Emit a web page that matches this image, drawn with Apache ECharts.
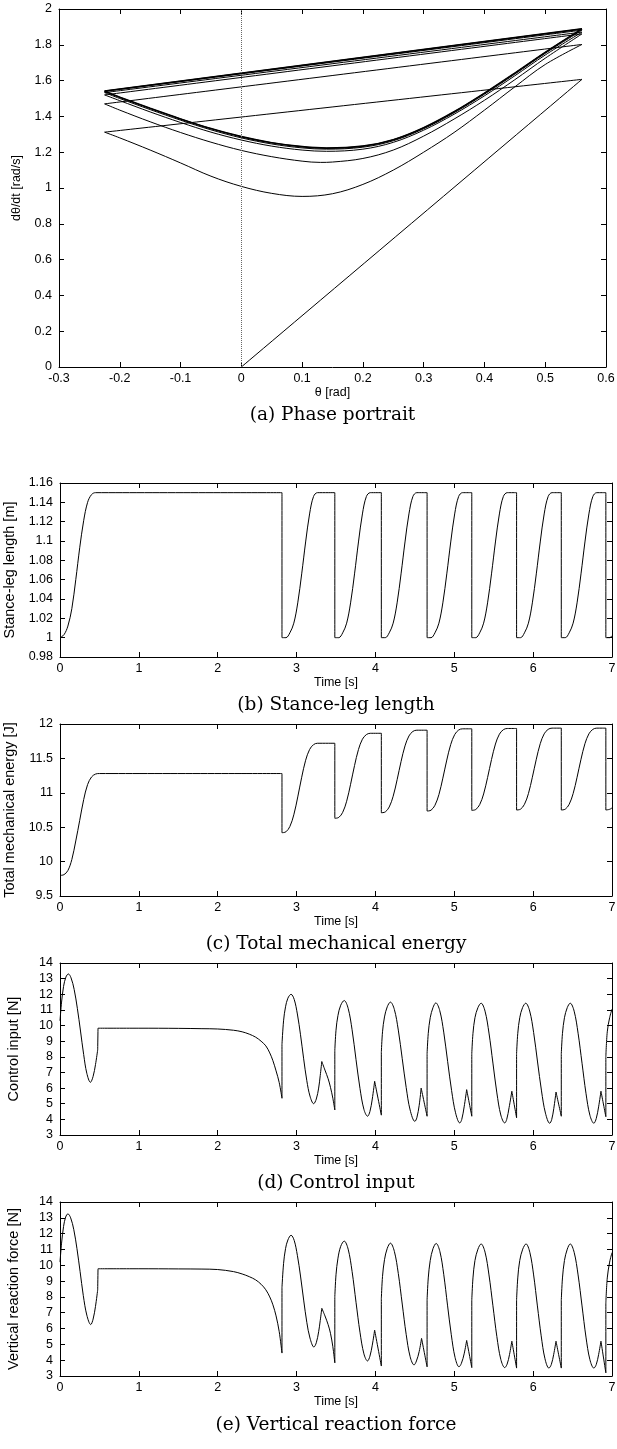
<!DOCTYPE html>
<html>
<head>
<meta charset="utf-8">
<script src="https://cdn.jsdelivr.net/npm/echarts@6.0.0/dist/echarts.min.js"></script>
<style>
html, body { margin: 0; padding: 0; background: #fff; }
#chart { width: 617px; height: 1449px; }
</style>
</head>
<body>
<div id="chart"></div>
<script>
// (a) phase portrait: [theta, dtheta/dt], one array per stance phase
const firstStance = [[0, 0], [0.5605, 1.607]]
const swing1 = [[-0.225, 1.312], [-0.2, 1.28], [-0.15, 1.212], [-0.1, 1.14], [-0.05, 1.066], [0, 1.009], [0.05, 0.97], [0.1, 0.953], [0.15, 0.968], [0.2, 1.02], [0.25, 1.1], [0.3, 1.2], [0.35, 1.31], [0.4, 1.435], [0.45, 1.565], [0.5, 1.69], [0.5605, 1.802]]
const swing2 = [[-0.225, 1.47], [-0.2, 1.435], [-0.15, 1.37], [-0.1, 1.31], [-0.05, 1.256], [0, 1.21], [0.05, 1.175], [0.1, 1.15], [0.13, 1.143], [0.15, 1.145], [0.2, 1.165], [0.25, 1.212], [0.3, 1.29], [0.35, 1.385], [0.4, 1.49], [0.45, 1.605], [0.5, 1.725], [0.5605, 1.861]]
const swing3 = [[-0.225, 1.52], [-0.2, 1.488], [-0.15, 1.425], [-0.1, 1.366], [-0.05, 1.312], [0, 1.268], [0.05, 1.234], [0.1, 1.212], [0.14, 1.205], [0.2, 1.217], [0.25, 1.255], [0.3, 1.323], [0.35, 1.412], [0.4, 1.515], [0.45, 1.627], [0.5, 1.743], [0.5605, 1.871]]
const swing4 = [[-0.225, 1.533], [-0.2, 1.5], [-0.15, 1.438], [-0.1, 1.379], [-0.05, 1.325], [0, 1.28], [0.05, 1.246], [0.1, 1.224], [0.14, 1.217], [0.2, 1.228], [0.25, 1.264], [0.3, 1.331], [0.35, 1.42], [0.4, 1.524], [0.45, 1.636], [0.5, 1.752], [0.5605, 1.882]]
const limitCycle = [[-0.225, 1.54], [-0.2, 1.507], [-0.15, 1.445], [-0.1, 1.386], [-0.05, 1.332], [0, 1.287], [0.05, 1.253], [0.1, 1.231], [0.14, 1.223], [0.2, 1.234], [0.25, 1.27], [0.3, 1.337], [0.35, 1.426], [0.4, 1.53], [0.45, 1.642], [0.5, 1.758], [0.5605, 1.889]]
// heel-strike jumps (end of one stance -> start of the next)
const impacts = [
    [[0.5605, 1.607], [-0.225, 1.312]],
    [[0.5605, 1.802], [-0.225, 1.47]],
    [[0.5605, 1.861], [-0.225, 1.52]],
    [[0.5605, 1.871], [-0.225, 1.533]],
    [[0.5605, 1.882], [-0.225, 1.54]],
    [[0.5605, 1.889], [-0.225, 1.542]]
]

// (b) stance-leg length [m] vs time [s], pieces split at the jumps
const legLength = [
    [[0, 1], [0.05, 1.003], [0.1, 1.012], [0.15, 1.03], [0.2, 1.06], [0.25, 1.093], [0.3, 1.121], [0.35, 1.14], [0.4, 1.148], [0.45, 1.15], [2.815, 1.15]],
    [[2.815, 1.15], [2.815, 1]],
    [[2.815, 1], [2.865, 1], [2.915, 1.005], [2.965, 1.015], [3.015, 1.036], [3.065, 1.066], [3.115, 1.099], [3.165, 1.128], [3.215, 1.146], [3.265, 1.15], [3.485, 1.15]],
    [[3.485, 1.15], [3.485, 1]],
    [[3.485, 1], [3.535, 1], [3.585, 1.005], [3.635, 1.015], [3.685, 1.036], [3.735, 1.066], [3.785, 1.099], [3.835, 1.128], [3.885, 1.146], [3.935, 1.15], [4.075, 1.15]],
    [[4.075, 1.15], [4.075, 1]],
    [[4.075, 1], [4.125, 1], [4.175, 1.005], [4.225, 1.015], [4.275, 1.036], [4.325, 1.066], [4.375, 1.099], [4.425, 1.128], [4.475, 1.146], [4.525, 1.15], [4.655, 1.15]],
    [[4.655, 1.15], [4.655, 1]],
    [[4.655, 1], [4.705, 1], [4.755, 1.005], [4.805, 1.015], [4.855, 1.036], [4.905, 1.066], [4.955, 1.099], [5.005, 1.128], [5.055, 1.146], [5.105, 1.15], [5.222, 1.15]],
    [[5.222, 1.15], [5.222, 1]],
    [[5.222, 1], [5.272, 1], [5.322, 1.005], [5.372, 1.015], [5.422, 1.036], [5.472, 1.066], [5.522, 1.099], [5.572, 1.128], [5.622, 1.146], [5.672, 1.15], [5.79, 1.15]],
    [[5.79, 1.15], [5.79, 1]],
    [[5.79, 1], [5.84, 1], [5.89, 1.005], [5.94, 1.015], [5.99, 1.036], [6.04, 1.066], [6.09, 1.099], [6.14, 1.128], [6.19, 1.146], [6.24, 1.15], [6.357, 1.15]],
    [[6.357, 1.15], [6.357, 1]],
    [[6.357, 1], [6.407, 1], [6.457, 1.005], [6.507, 1.015], [6.557, 1.036], [6.607, 1.066], [6.657, 1.099], [6.707, 1.128], [6.757, 1.146], [6.807, 1.15], [6.922, 1.15]],
    [[6.922, 1.15], [6.922, 1]],
    [[6.922, 1], [6.97, 1], [7, 1.002]]
]

// (c) total mechanical energy [J]
const energy = [
    [[0, 9.8], [0.05, 9.81], [0.1, 9.87], [0.15, 10.03], [0.2, 10.3], [0.25, 10.6], [0.3, 10.9], [0.35, 11.12], [0.4, 11.23], [0.45, 11.272], [0.5, 11.28], [2.815, 11.28]],
    [[2.815, 11.28], [2.815, 10.42]],
    [[2.815, 10.42], [2.865, 10.433], [2.915, 10.51], [2.965, 10.68], [3.015, 10.94], [3.065, 11.226], [3.115, 11.473], [3.165, 11.629], [3.215, 11.7], [3.265, 11.72], [3.485, 11.72]],
    [[3.485, 11.72], [3.485, 10.63]],
    [[3.485, 10.63], [3.535, 10.642], [3.585, 10.716], [3.635, 10.877], [3.685, 11.124], [3.735, 11.396], [3.785, 11.63], [3.835, 11.779], [3.885, 11.846], [3.935, 11.865], [4.075, 11.865]],
    [[4.075, 11.865], [4.075, 10.71]],
    [[4.075, 10.71], [4.125, 10.722], [4.175, 10.794], [4.225, 10.95], [4.275, 11.19], [4.325, 11.454], [4.375, 11.682], [4.425, 11.826], [4.475, 11.892], [4.525, 11.91], [4.655, 11.91]],
    [[4.655, 11.91], [4.655, 10.735]],
    [[4.655, 10.735], [4.705, 10.747], [4.755, 10.819], [4.805, 10.974], [4.855, 11.213], [4.905, 11.476], [4.955, 11.703], [5.005, 11.846], [5.055, 11.912], [5.105, 11.93], [5.222, 11.93]],
    [[5.222, 11.93], [5.222, 10.745]],
    [[5.222, 10.745], [5.272, 10.757], [5.322, 10.828], [5.372, 10.983], [5.422, 11.221], [5.472, 11.483], [5.522, 11.709], [5.572, 11.852], [5.622, 11.917], [5.672, 11.935], [5.79, 11.935]],
    [[5.79, 11.935], [5.79, 10.75]],
    [[5.79, 10.75], [5.84, 10.762], [5.89, 10.833], [5.94, 10.988], [5.99, 11.226], [6.04, 11.488], [6.09, 11.714], [6.14, 11.857], [6.19, 11.922], [6.24, 11.94], [6.357, 11.94]],
    [[6.357, 11.94], [6.357, 10.75]],
    [[6.357, 10.75], [6.407, 10.762], [6.457, 10.833], [6.507, 10.988], [6.557, 11.226], [6.607, 11.488], [6.657, 11.714], [6.707, 11.857], [6.757, 11.922], [6.807, 11.94], [6.922, 11.94]],
    [[6.922, 11.94], [6.922, 10.75]],
    [[6.922, 10.75], [6.97, 10.76], [7, 10.78]]
]

// (d) control input [N]
const controlInput = [
    [[0, 10.3], [0.02, 11.5], [0.045, 12.5], [0.075, 13.1], [0.106, 13.3], [0.14, 13.05], [0.18, 12.3], [0.22, 11.1], [0.26, 9.65], [0.3, 8.15], [0.34, 6.95], [0.386, 6.37], [0.42, 6.75], [0.45, 7.5], [0.478, 8.45]],
    [[0.478, 8.45], [0.482, 9.83]],
    [[0.482, 9.83], [1, 9.83], [1.5, 9.82], [1.8, 9.8], [2, 9.78], [2.2, 9.7], [2.31, 9.6], [2.4, 9.45], [2.48, 9.26], [2.55, 9.0], [2.61, 8.7], [2.66, 8.25], [2.7, 7.75], [2.74, 7.1], [2.78, 6.35], [2.815, 5.35]],
    [[2.815, 5.35], [2.815, 8.8]],
    [[2.815, 8.8], [2.835, 10.3], [2.86, 11.2], [2.89, 11.75], [2.93, 12.0], [2.97, 11.67], [3.01, 10.74], [3.05, 9.41], [3.09, 7.87], [3.13, 6.47], [3.17, 5.49], [3.217, 5.0], [3.25, 5.3], [3.28, 6.0], [3.3, 6.8], [3.32, 7.7]],
    [[3.32, 7.7], [3.36, 7.15], [3.4, 6.6], [3.43, 6.05], [3.46, 5.35], [3.485, 4.6]],
    [[3.485, 4.6], [3.485, 8.4]],
    [[3.485, 8.4], [3.5, 9.7], [3.525, 10.65], [3.56, 11.3], [3.604, 11.6], [3.654, 11.1], [3.704, 9.73], [3.754, 7.82], [3.804, 5.98], [3.854, 4.64], [3.9, 4.2], [3.93, 4.5], [3.96, 5.3], [3.99, 6.44]],
    [[3.99, 6.44], [4.075, 4.27]],
    [[4.075, 4.27], [4.075, 8.3]],
    [[4.075, 8.3], [4.09, 9.6], [4.115, 10.55], [4.15, 11.2], [4.19, 11.5], [4.24, 11.03], [4.29, 9.71], [4.34, 7.88], [4.39, 6.04], [4.44, 4.6], [4.5, 3.87], [4.525, 4.1], [4.555, 4.9], [4.58, 6.0]],
    [[4.58, 6.0], [4.655, 4.2]],
    [[4.655, 4.2], [4.655, 8.2]],
    [[4.655, 8.2], [4.67, 9.5], [4.695, 10.5], [4.73, 11.15], [4.766, 11.45], [4.816, 10.95], [4.866, 9.58], [4.916, 7.69], [4.966, 5.84], [5.016, 4.42], [5.07, 3.77], [5.095, 4.0], [5.125, 4.8], [5.157, 5.9]],
    [[5.157, 5.9], [5.222, 4.2]],
    [[5.222, 4.2], [5.222, 8.2]],
    [[5.222, 8.2], [5.237, 9.5], [5.262, 10.5], [5.3, 11.15], [5.34, 11.43], [5.39, 10.92], [5.44, 9.52], [5.49, 7.6], [5.54, 5.69], [5.59, 4.28], [5.64, 3.77], [5.665, 4.0], [5.695, 4.75], [5.73, 5.8]],
    [[5.73, 5.8], [5.79, 4.1]],
    [[5.79, 4.1], [5.79, 8.2]],
    [[5.79, 8.2], [5.805, 9.5], [5.83, 10.5], [5.866, 11.15], [5.906, 11.43], [5.956, 10.93], [6.006, 9.56], [6.056, 7.67], [6.106, 5.82], [6.156, 4.4], [6.21, 3.75], [6.235, 3.98], [6.262, 4.7], [6.29, 5.75]],
    [[6.29, 5.75], [6.357, 4.2]],
    [[6.357, 4.2], [6.357, 8.2]],
    [[6.357, 8.2], [6.372, 9.5], [6.397, 10.5], [6.433, 11.15], [6.47, 11.43], [6.52, 10.92], [6.57, 9.51], [6.62, 7.59], [6.67, 5.67], [6.72, 4.26], [6.77, 3.75], [6.8, 4.05], [6.83, 4.8], [6.86, 5.8]],
    [[6.86, 5.8], [6.922, 4.17]],
    [[6.922, 4.17], [6.922, 8.0]],
    [[6.922, 8.0], [6.94, 9.6], [6.97, 10.5], [7, 11.05]]
]

// (e) vertical reaction force [N]
const reactionForce = [
    [[0, 10.2], [0.02, 11.4], [0.045, 12.45], [0.072, 13.05], [0.1, 13.25], [0.135, 13.0], [0.175, 12.25], [0.215, 11.05], [0.255, 9.6], [0.295, 8.1], [0.34, 6.85], [0.39, 6.25], [0.42, 6.6], [0.45, 7.4], [0.478, 8.45]],
    [[0.478, 8.45], [0.482, 9.78]],
    [[0.482, 9.78], [1, 9.78], [1.5, 9.77], [1.8, 9.76], [2, 9.73], [2.2, 9.6], [2.31, 9.45], [2.4, 9.28], [2.48, 9.08], [2.55, 8.8], [2.61, 8.45], [2.66, 8.0], [2.7, 7.5], [2.74, 6.8], [2.78, 5.8], [2.815, 4.45]],
    [[2.815, 4.45], [2.815, 8.6]],
    [[2.815, 8.6], [2.835, 10.1], [2.86, 11.05], [2.89, 11.6], [2.93, 11.9], [2.97, 11.57], [3.01, 10.63], [3.05, 9.32], [3.09, 7.8], [3.13, 6.39], [3.17, 5.4], [3.22, 4.83], [3.25, 5.1], [3.28, 5.8], [3.3, 6.5], [3.32, 7.28]],
    [[3.32, 7.28], [3.36, 6.8], [3.4, 6.25], [3.43, 5.7], [3.46, 4.85], [3.485, 3.83]],
    [[3.485, 3.83], [3.485, 8.0]],
    [[3.485, 8.0], [3.5, 9.4], [3.525, 10.45], [3.56, 11.2], [3.604, 11.53], [3.654, 11.02], [3.704, 9.61], [3.754, 7.66], [3.804, 5.77], [3.854, 4.4], [3.9, 3.95], [3.93, 4.25], [3.96, 4.95], [3.99, 5.9]],
    [[3.99, 5.9], [4.075, 3.63]],
    [[4.075, 3.63], [4.075, 7.9]],
    [[4.075, 7.9], [4.09, 9.3], [4.115, 10.35], [4.15, 11.07], [4.19, 11.4], [4.24, 10.88], [4.29, 9.48], [4.34, 7.55], [4.39, 5.63], [4.44, 4.22], [4.49, 3.7], [4.52, 3.95], [4.555, 4.55], [4.585, 5.38]],
    [[4.585, 5.38], [4.655, 3.58]],
    [[4.655, 3.58], [4.655, 7.8]],
    [[4.655, 7.8], [4.67, 9.2], [4.695, 10.3], [4.73, 11.05], [4.77, 11.38], [4.818, 10.86], [4.866, 9.43], [4.914, 7.48], [4.962, 5.61], [5.01, 4.17], [5.06, 3.58], [5.09, 3.8], [5.125, 4.4], [5.157, 5.25]],
    [[5.157, 5.25], [5.222, 3.53]],
    [[5.222, 3.53], [5.222, 7.8]],
    [[5.222, 7.8], [5.237, 9.2], [5.262, 10.3], [5.3, 11.02], [5.34, 11.35], [5.39, 10.83], [5.44, 9.39], [5.49, 7.44], [5.54, 5.49], [5.59, 4.05], [5.64, 3.53], [5.67, 3.75], [5.7, 4.35], [5.73, 5.2]],
    [[5.73, 5.2], [5.79, 3.5]],
    [[5.79, 3.5], [5.79, 7.8]],
    [[5.79, 7.8], [5.805, 9.2], [5.83, 10.3], [5.868, 11.02], [5.91, 11.35], [5.958, 10.82], [6.006, 9.39], [6.054, 7.43], [6.102, 5.54], [6.15, 4.09], [6.2, 3.5], [6.23, 3.72], [6.26, 4.35], [6.29, 5.2]],
    [[6.29, 5.2], [6.357, 3.5]],
    [[6.357, 3.5], [6.357, 7.8]],
    [[6.357, 7.8], [6.372, 9.2], [6.397, 10.3], [6.433, 11.02], [6.47, 11.35], [6.52, 10.82], [6.57, 9.39], [6.62, 7.43], [6.67, 5.46], [6.72, 4.03], [6.77, 3.5], [6.8, 3.72], [6.83, 4.35], [6.86, 5.2]],
    [[6.86, 5.2], [6.922, 3.2]],
    [[6.922, 3.2], [6.922, 7.6]],
    [[6.922, 7.6], [6.94, 9.2], [6.97, 10.2], [7, 10.8]]
]

// pieces -> one data list, '-' breaks the line so jumps and cusps stay sharp
function joinPieces(pieces) {
    const out = []
    pieces.forEach((p, i) => {
        if (i > 0) out.push('-')
        p.forEach(pt => out.push(pt))
    })
    return out
}

const phasePieces = [
    firstStance, impacts[0], swing1, impacts[1], swing2, impacts[2],
    swing3, impacts[3], swing4, impacts[4], limitCycle, impacts[5]
]

const SANS = 'Liberation Sans'
const SERIF = 'DejaVu Serif'
const INK = '#000'

const panels = [
    { grid: { left: 59, top: 9, width: 547, height: 358 }, x: [-0.3, 0.6, 0.1], y: [0, 2, 0.2],
      xName: 'θ [rad]', yName: 'dθ/dt [rad/s]', yGap: 36, yFont: 12.5, caption: '(a) Phase portrait', capY: 415,
      data: joinPieces(phasePieces) },
    { grid: { left: 60, top: 483, width: 552, height: 174 }, x: [0, 7, 1], y: [0.98, 1.16, 0.02],
      xName: 'Time [s]', yName: 'Stance-leg length [m]', yGap: 39, yFont: 14.5, caption: '(b) Stance-leg length', capY: 705,
      data: joinPieces(legLength) },
    { grid: { left: 60, top: 724, width: 552, height: 172 }, x: [0, 7, 1], y: [9.5, 12, 0.5],
      xName: 'Time [s]', yName: 'Total mechanical energy [J]', yGap: 39, yFont: 14.5, caption: '(c) Total mechanical energy', capY: 944,
      data: joinPieces(energy) },
    { grid: { left: 60, top: 963, width: 552, height: 172 }, x: [0, 7, 1], y: [3, 14, 1],
      xName: 'Time [s]', yName: 'Control input [N]', yGap: 39, yFont: 14.5, caption: '(d) Control input', capY: 1183,
      data: joinPieces(controlInput) },
    { grid: { left: 60, top: 1202, width: 552, height: 174 }, x: [0, 7, 1], y: [3, 14, 1],
      xName: 'Time [s]', yName: 'Vertical reaction force [N]', yGap: 39, yFont: 14.5, caption: '(e) Vertical reaction force', capY: 1425,
      data: joinPieces(reactionForce) }
]

const lineStyle = { color: INK, width: 1 }
const tick = { inside: true, length: 5, lineStyle: lineStyle }
const label = { color: INK, fontSize: 12.5, fontFamily: SANS }

let grid = [], xAxis = [], yAxis = [], series = [], graphic = []
panels.forEach((p, i) => {
    grid.push(Object.assign({ outerBoundsMode: 'none', containLabel: false }, p.grid))
    xAxis.push({
        gridIndex: i, type: 'value', position: 'bottom',
        min: p.x[0], max: p.x[1], interval: p.x[2],
        name: p.xName, nameLocation: 'middle', nameGap: 18,
        nameTextStyle: { color: INK, fontSize: 12.5, fontFamily: SANS },
        axisLine: { onZero: false, lineStyle: lineStyle },
        axisTick: tick, axisLabel: Object.assign({ margin: 5 }, label),
        splitLine: { show: false }
    })
    xAxis.push({
        gridIndex: i, type: 'value', position: 'top',
        min: p.x[0], max: p.x[1], interval: p.x[2],
        axisLine: { onZero: false, lineStyle: lineStyle },
        axisTick: tick, axisLabel: { show: false }, splitLine: { show: false }
    })
    yAxis.push({
        gridIndex: i, type: 'value', position: 'left',
        min: p.y[0], max: p.y[1], interval: p.y[2],
        name: p.yName, nameLocation: 'middle', nameGap: p.yGap,
        nameTextStyle: { color: INK, fontSize: p.yFont, fontFamily: SANS },
        axisLine: { onZero: false, lineStyle: lineStyle },
        axisTick: tick, axisLabel: Object.assign({ margin: 7 }, label),
        splitLine: { show: false }
    })
    yAxis.push({
        gridIndex: i, type: 'value', position: 'right',
        min: p.y[0], max: p.y[1], interval: p.y[2],
        axisLine: { onZero: false, lineStyle: lineStyle },
        axisTick: tick, axisLabel: { show: false }, splitLine: { show: false }
    })
    let s = {
        type: 'line', xAxisIndex: 2 * i, yAxisIndex: 2 * i,
        data: p.data, symbol: 'none', smooth: 0.35, connectNulls: false,
        lineStyle: lineStyle, silent: true, animation: false
    }
    if (i == 0) {
        // gnuplot zero axis
        s.markLine = {
            silent: true, symbol: ['none', 'none'], label: { show: false },
            lineStyle: { type: 'dotted', color: '#666', width: 1 },
            data: [{ xAxis: 0 }]
        }
    }
    series.push(s)
    graphic.push({
        type: 'text', x: p.grid.left + p.grid.width / 2, y: p.capY,
        style: { text: p.caption, fill: INK, fontSize: 18.5, fontFamily: SERIF, align: 'center', verticalAlign: 'middle' }
    })
})

// converged limit cycle is drawn a little heavier (several laps on top of each other)
series.push({
    type: 'line', xAxisIndex: 0, yAxisIndex: 0,
    data: joinPieces([limitCycle, impacts[5]]), symbol: 'none', smooth: 0.35,
    lineStyle: { color: INK, width: 1.6 }, silent: true, animation: false
})

let myChart = echarts.init(document.getElementById('chart'), null, { renderer: 'canvas' })
myChart.setOption({
    animation: false,
    backgroundColor: '#fff',
    textStyle: { fontFamily: SANS },
    grid: grid,
    xAxis: xAxis,
    yAxis: yAxis,
    series: series,
    graphic: graphic
})
</script>
</body>
</html>
